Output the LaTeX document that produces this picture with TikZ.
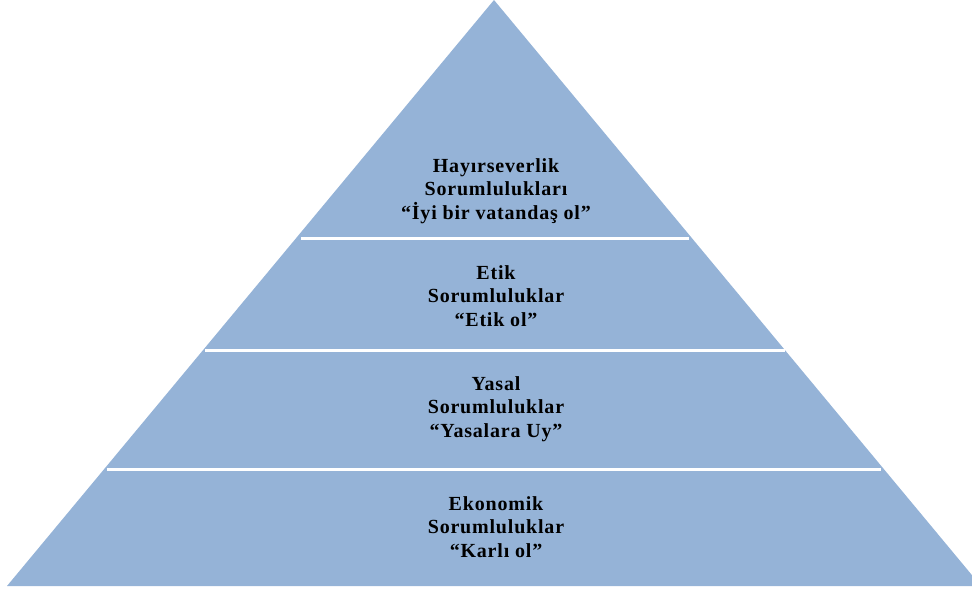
\documentclass[tikz,border=0pt]{standalone}
\usepackage{fontspec}
\setmainfont{Liberation Serif}
\definecolor{tierblue}{HTML}{95B3D7}
\tikzset{
  tier/.style={fill=tierblue, draw=none},
  divider/.style={draw=white, line width=3pt},
  label/.style={align=center, inner sep=0pt,
    font=\fontsize{20}{23.5}\selectfont\bfseries\addfontfeature{LetterSpace=4}}
}
\begin{document}
\begin{tikzpicture}[x=1pt, y=-1pt]
  \useasboundingbox (0,0) rectangle (972,589);
  \clip (0,0) rectangle (972,589);
  % pyramid body
  \path[tier] (494,0) -- (7,586) -- (981,586) -- cycle;
  % dividers between tiers
  \coordinate (d1l) at (301,238); \coordinate (d1r) at (689,238);
  \coordinate (d2l) at (205,350); \coordinate (d2r) at (785,350);
  \coordinate (d3l) at (107,469); \coordinate (d3r) at (881,469);
  \draw[divider] (d1l) -- (d1r);
  \draw[divider] (d2l) -- (d2r);
  \draw[divider] (d3l) -- (d3r);
  % tier labels
  \node[label] (t1) at (496,191) {Hayırseverlik\\Sorumlulukları\\“İyi bir vatandaş ol”};
  \node[label] (t2) at (496,296) {Etik\\Sorumluluklar\\“Etik ol”};
  \node[label] (t3) at (496,409) {Yasal\\Sorumluluklar\\“Yasalara Uy”};
  \node[label] (t4) at (496,527) {Ekonomik\\Sorumluluklar\\“Karlı ol”};
\end{tikzpicture}
\end{document}
